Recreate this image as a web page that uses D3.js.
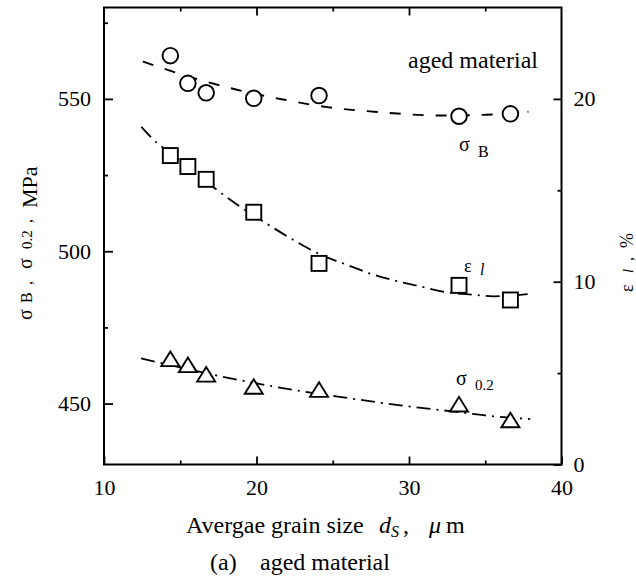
<!DOCTYPE html>
<html><head><meta charset="utf-8">
<script src="https://cdn.jsdelivr.net/npm/d3@7"></script>
<style>
body{margin:0;background:#fff}
svg{display:block}
text{font-family:"Liberation Serif","Times New Roman",serif;fill:#000}
</style>
</head><body>
<svg id="c" width="636" height="579"></svg>
<script>
// ---- data ----
const grainSize   = [14.35, 15.5, 16.7, 19.82, 24.1, 33.28, 36.65];
const sigmaB      = [564.2, 555.1, 552.0, 550.2, 551.1, 544.3, 545.1];   // MPa (left axis)
const elongation  = [16.9, 16.3, 15.6, 13.8, 11.0, 9.8, 9.0];            // % (right axis)
const sigma02     = [464.7, 462.7, 459.6, 455.6, 454.6, 449.8, 444.6];   // MPa (left axis)

// trend curves as drawn in the figure
const fitSigmaBX  = [12.55, 14.37, 16.06, 18.72, 21.64, 24.62, 27.69, 32.16, 35.09, 37.83];
const fitSigmaBY  = [562.3, 559.2, 556.6, 553.0, 549.9, 547.3, 545.8, 544.55, 544.8, 545.8];
const fitElongX   = [12.45, 13.4, 14.34, 17.24, 18.88, 20.64, 22.7, 24.58, 25.56, 27.46, 30.74, 32.49, 34.22, 35.53, 38.08];
const fitElongY   = [18.47, 17.65, 17.05, 15.13, 14.13, 13.19, 12.15, 11.34, 11.04, 10.44, 9.74, 9.42, 9.29, 9.20, 9.35];
const fitSigma02X = [12.43, 16.85, 19.82, 22.88, 26.16, 29.43, 32.7, 35.0, 37.95];
const fitSigma02Y = [464.85, 459.8, 456.8, 454.1, 451.7, 449.4, 447.5, 446.1, 444.9];

const xMajor = [10, 20, 30, 40];
const xMinor = [15, 25, 35];
const yLeftMajor = [450, 500, 550];
const yLeftMinor = [475, 525, 575];
const yRightMajor = [0, 10, 20];
const yRightMinor = [5, 15];

// ---- layout ----
const L = 104, R = 561.5, T = 7.5, B = 464.5;
const svg = d3.select("#c");
const x  = d3.scaleLinear().domain([10, 40]).range([L, R]);
const yL = d3.scaleLinear().domain([430, 580]).range([B, T]);
const yR = d3.scaleLinear().domain([0, 25]).range([B, T]);

function styleAxis(g){
  g.select(".domain").remove();
  g.selectAll(".tick line").attr("stroke","#000").attr("stroke-width",1.8);
  g.selectAll(".tick text").style("font-size","22px").attr("font-family",null);
}
// bottom
svg.append("g").attr("transform",`translate(0,${B})`)
  .call(d3.axisBottom(x).tickValues(xMajor).tickSizeInner(-8).tickSizeOuter(0).tickPadding(15).tickFormat(d3.format("d")))
  .call(styleAxis);
svg.append("g").attr("transform",`translate(0,${B})`)
  .call(d3.axisBottom(x).tickValues(xMinor).tickSizeInner(-4).tickSizeOuter(0).tickFormat(""))
  .call(styleAxis);
// top
svg.append("g").attr("transform",`translate(0,${T})`)
  .call(d3.axisTop(x).tickValues(xMajor.slice(1,3)).tickSizeInner(-8).tickSizeOuter(0).tickFormat(""))
  .call(styleAxis);
svg.append("g").attr("transform",`translate(0,${T})`)
  .call(d3.axisTop(x).tickValues(xMinor).tickSizeInner(-4).tickSizeOuter(0).tickFormat(""))
  .call(styleAxis);
// left
svg.append("g").attr("transform",`translate(${L},0)`)
  .call(d3.axisLeft(yL).tickValues(yLeftMajor).tickSizeInner(-9).tickSizeOuter(0).tickPadding(13).tickFormat(d3.format("d")))
  .call(styleAxis);
svg.append("g").attr("transform",`translate(${L},0)`)
  .call(d3.axisLeft(yL).tickValues(yLeftMinor).tickSizeInner(-4).tickSizeOuter(0).tickFormat(""))
  .call(styleAxis);
// right
svg.append("g").attr("transform",`translate(${R},0)`)
  .call(d3.axisRight(yR).tickValues(yRightMajor).tickSizeInner(-8).tickSizeOuter(0).tickPadding(12).tickFormat(d3.format("d")))
  .call(styleAxis);
svg.append("g").attr("transform",`translate(${R},0)`)
  .call(d3.axisRight(yR).tickValues(yRightMinor).tickSizeInner(-4).tickSizeOuter(0).tickFormat(""))
  .call(styleAxis);

// frame
svg.append("rect").attr("x",L).attr("y",T).attr("width",R-L).attr("height",B-T)
  .attr("fill","none").attr("stroke","#000").attr("stroke-width",2);

// ---- trend curves ----
const lineL = d3.line().x(d=>x(d[0])).y(d=>yL(d[1])).curve(d3.curveMonotoneX);
const lineR = d3.line().x(d=>x(d[0])).y(d=>yR(d[1])).curve(d3.curveMonotoneX);
svg.append("path").attr("d", lineL(d3.zip(fitSigmaBX, fitSigmaBY)))
  .attr("fill","none").attr("stroke","#000").attr("stroke-width",1.9).attr("stroke-dasharray","11,12");
svg.append("path").attr("d", lineR(d3.zip(fitElongX, fitElongY)))
  .attr("fill","none").attr("stroke","#000").attr("stroke-width",1.8).attr("stroke-dasharray","14,6,2,6");
svg.append("path").attr("d", lineL(d3.zip(fitSigma02X, fitSigma02Y)))
  .attr("fill","none").attr("stroke","#000").attr("stroke-width",1.8).attr("stroke-dasharray","14,6,2,6");

// ---- markers ----
const mk = {stroke:"#000", sw:1.9};
svg.append("g").selectAll("circle").data(d3.zip(grainSize, sigmaB)).join("circle")
  .attr("cx",d=>x(d[0])).attr("cy",d=>yL(d[1])).attr("r",7.8)
  .attr("fill","#fff").attr("stroke",mk.stroke).attr("stroke-width",mk.sw);
svg.append("g").selectAll("rect").data(d3.zip(grainSize, elongation)).join("rect")
  .attr("x",d=>x(d[0])-7.5).attr("y",d=>yR(d[1])-7.5).attr("width",15).attr("height",15)
  .attr("fill","#fff").attr("stroke",mk.stroke).attr("stroke-width",mk.sw);
svg.append("g").selectAll("path").data(d3.zip(grainSize, sigma02)).join("path")
  .attr("d",d=>{const cx=x(d[0]), cy=yL(d[1]), w=9, h=7.3;
     return `M${cx},${cy-h}L${cx+w},${cy+h}L${cx-w},${cy+h}Z`;})
  .attr("fill","#fff").attr("stroke",mk.stroke).attr("stroke-width",mk.sw).attr("stroke-linejoin","miter");

// ---- in-plot labels ----
svg.append("text").attr("x",538).attr("y",68).attr("text-anchor","end")
  .style("font-size","24px").text("aged material");
svg.append("text").attr("x",459).attr("y",151).style("font-size","20px").text("σ");
svg.append("text").attr("x",478).attr("y",157).style("font-size","16px").text("B");
svg.append("text").attr("x",464).attr("y",272).style("font-size","18px").text("ε");
svg.append("text").attr("x",480).attr("y",275).style("font-size","16px").style("font-style","italic").text("l");
svg.append("text").attr("x",456).attr("y",385).style("font-size","20px").text("σ");
svg.append("text").attr("x",475).attr("y",390).style("font-size","15px").text("0.2");

// ---- axis titles ----
const xt = svg.append("text").attr("y",533).style("font-size","24px");
xt.append("tspan").attr("x",186).text("Avergae grain size");
xt.append("tspan").attr("x",379).style("font-style","italic").text("d");
xt.append("tspan").attr("x",391).attr("dy",4).style("font-style","italic").style("font-size","16px").text("S");
xt.append("tspan").attr("x",403).attr("dy",-4).text(",");
xt.append("tspan").attr("x",429).style("font-style","italic").text("μ");
xt.append("tspan").attr("x",446).text("m");

svg.append("text").attr("x",210).attr("y",570).style("font-size","24px").text("(a)");
svg.append("text").attr("x",260).attr("y",570).style("font-size","24px").text("aged material");

// left title (rotated)
const lg = svg.append("g").attr("transform","translate(0,322) rotate(-90)");
const leftParts = [[2,"σ",20,32],[19,"B",16,32],[37,",",16,32],[53,"σ",20,32],[73,"0.2",15,32],[99,",",16,32],[114,"MPa",22,37]];
leftParts.forEach(p=>lg.append("text").attr("x",p[0]).attr("y",p[3]).style("font-size",p[2]+"px").text(p[1]));

// right title (rotated)
const rg = svg.append("g").attr("transform","translate(0,292) rotate(-90)");
const rightParts = [[0,"ε",18,633,"normal"],[19,"l",15,633,"italic"],[31,",",16,633,"normal"],[44,"%",18,633,"normal"]];
rightParts.forEach(p=>rg.append("text").attr("x",p[0]).attr("y",p[3]).style("font-size",p[2]+"px").style("font-style",p[4]).text(p[1]));
</script>
</body></html>
